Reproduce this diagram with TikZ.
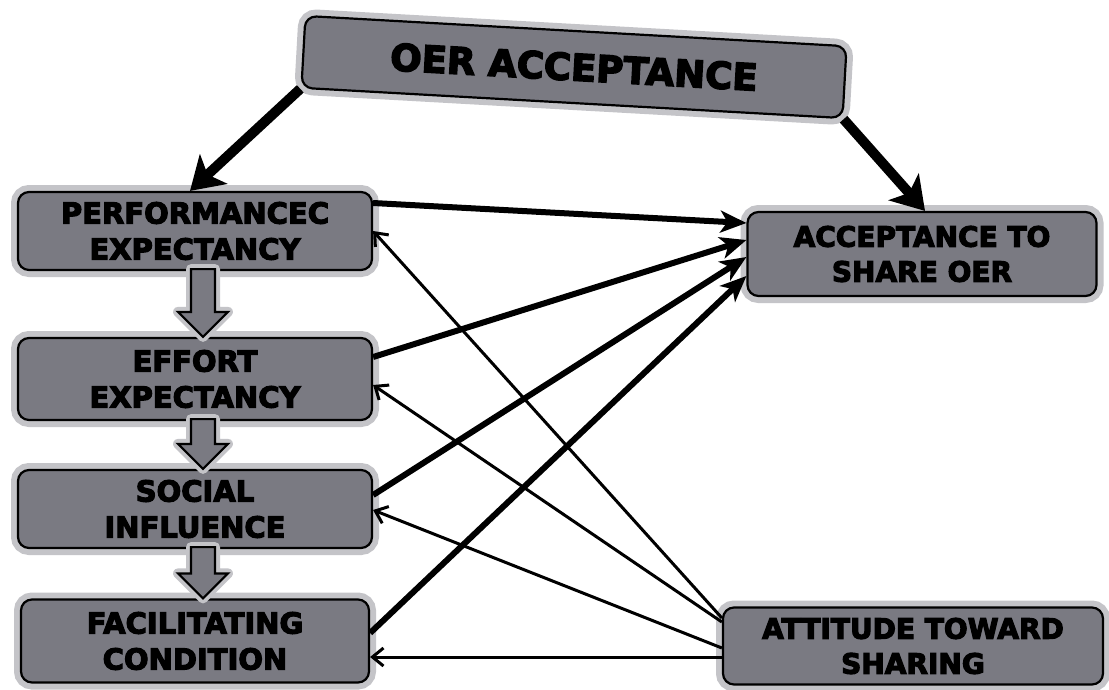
\documentclass[tikz,border=0pt]{standalone}
\usepackage{fontspec}
\setmainfont{DejaVu Sans}[BoldFeatures={FakeBold=4}]
\usetikzlibrary{arrows.meta,calc}
\definecolor{boxgrey}{RGB}{122,122,130}
\definecolor{halogrey}{RGB}{196,196,200}
\pgfdeclarelayer{bg}
\pgfsetlayers{bg,main}
\newcommand\blockarr[2]{%
  \draw[blockstyle] let \p1=(#1.south), \p2=(#2.north) in
    (\x1-4pt,\y1+2pt) -- (\x1+20pt,\y1+2pt) -- (\x1+20pt,\y2+25pt) -- (\x1+33pt,\y2+25pt)
    -- (\x1+8pt,\y2) -- (\x1-17pt,\y2+25pt) -- (\x1-4pt,\y2+25pt) -- cycle;}
\newcommand\allconnectors{%
  \draw[bigarr] (oer.south west) -- ([xshift=-5pt]perf.north);
  \draw[bigarr] (oer.south east) -- ([xshift=3pt]acc.north);
  \draw[thickarr] ([yshift=28pt]perf.east) -- ([yshift=31pt]acc.west);
  \draw[thickarr] ([yshift=22pt]effort.east) -- ([yshift=14pt]acc.west);
  \draw[thickarr] ([yshift=14pt]social.east) -- ([yshift=-3pt]acc.west);
  \draw[thickarr] ([yshift=8pt]facil.east) -- ([yshift=-22pt]acc.west);
  \draw[thinarr] ([yshift=28pt]att.west) -- (perf.east);
  \draw[thinarr] ([yshift=24pt]att.west) -- ([yshift=-6pt]effort.east);
  \draw[thinarr] ([yshift=-2pt]att.west) -- ([yshift=-1pt]social.east);
  \draw[thinarr] ([yshift=-11pt]att.west) -- ([yshift=-16pt]facil.east);}
\begin{document}
\begin{tikzpicture}[x=1pt,y=-1pt,
  box/.style={draw=black, line width=2.2pt, fill=boxgrey, rounded corners=11pt,
    align=center, inner sep=0pt, font=\fontsize{29}{36}\selectfont\bfseries,
    preaction={draw=halogrey, line width=14pt}},
  rbox/.style={box, font=\fontsize{28}{35}\selectfont\bfseries},
  blockstyle/.style={draw=black, line width=2.2pt, fill=boxgrey, line join=miter,
    preaction={draw=halogrey, line width=10pt, line join=round}},
  bigarr/.style={line width=10pt, -{Stealth[length=32pt,width=40pt,inset=8pt]}},
  thickarr/.style={line width=6pt, -{Stealth[length=26pt,width=22pt,inset=7pt]}},
  thinarr/.style={line width=3pt, -{Straight Barb[length=11pt,width=18pt]}}]
\useasboundingbox (0,0) rectangle (1109,689);
\fill[white] (0,0) rectangle (1109,689);
\node[box, rotate=-3.2, minimum width=542pt, minimum height=72pt,
  font=\fontsize{37}{40}\selectfont\bfseries] (oer) at (574,67) {OER ACCEPTANCE};
\node[box, minimum width=354pt, minimum height=78pt] (perf) at (195,231) {PERFORMANCEC\\EXPECTANCY};
\node[box, minimum width=354pt, minimum height=82pt] (effort) at (195,379) {EFFORT\\EXPECTANCY};
\node[box, minimum width=354pt, minimum height=78pt] (social) at (195,509) {SOCIAL\\INFLUENCE};
\node[box, minimum width=348pt, minimum height=83pt] (facil) at (195,641) {FACILITATING\\CONDITION};
\node[rbox, minimum width=349pt, minimum height=84pt] (acc) at (922,254) {ACCEPTANCE TO\\SHARE OER};
\node[rbox, minimum width=380pt, minimum height=77pt] (att) at (913,646) {ATTITUDE TOWARD\\SHARING};
\blockarr{perf}{effort}
\blockarr{effort}{social}
\blockarr{social}{facil}
\begin{pgfonlayer}{bg}
\begin{scope}[bigarr/.style={draw=halogrey, line width=20pt},
              thickarr/.style={draw=halogrey, line width=14pt},
              thinarr/.style={draw=halogrey, line width=10pt}]
\allconnectors
\end{scope}
\end{pgfonlayer}
\allconnectors
\end{tikzpicture}
\end{document}
